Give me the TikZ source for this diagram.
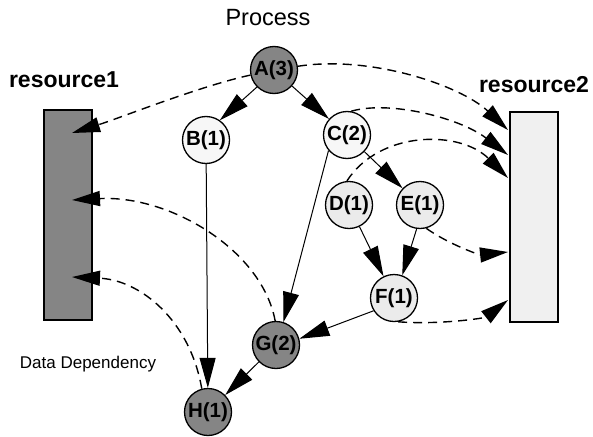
\documentclass[tikz,border=0pt]{standalone}
\usepackage{fontspec}
\setmainfont{Liberation Sans}
\usetikzlibrary{arrows.meta}
\begin{document}
\begin{tikzpicture}[x=1pt,y=-1pt,
  task/.style={circle,draw,line width=1.3pt,minimum size=47pt,inner sep=0pt,
    font=\fontsize{20.5}{20.5}\selectfont\bfseries},
  heavy/.style={task,fill=black!48},
  light/.style={task,fill=black!8},
  pale/.style={task,fill=black!3},
  store/.style={draw,line width=1.1pt,minimum width=48pt,minimum height=210pt,inner sep=0pt},
  dep/.style={-{Triangle[length=30pt,width=16pt]},line width=1pt},
  data/.style={-{Triangle[length=28pt,width=15pt]},line width=1.4pt,dash pattern=on 9pt off 6pt},
  title/.style={font=\fontsize{23.5}{23.5}\selectfont},
  restitle/.style={font=\fontsize{23}{23}\selectfont\bfseries},
  ]
\useasboundingbox (0,0) rectangle (593,436);

% resources
\node[store,fill=black!48] (res1) at (68,215) {};
\node[store,fill=black!6]  (res2) at (534,217) {};

% labels
\node[title]    (proc)  at (268,18) {Process};
\node[restitle] (lab1)  at (64,80)  {resource1};
\node[restitle] (lab2)  at (534,85) {resource2};
\node[font=\fontsize{17}{17}\selectfont] (legend) at (88,364) {Data Dependency};

% tasks
\node[heavy] (A) at (274,70)  {A(3)};
\node[pale]  (B) at (206,140) {B(1)};
\node[pale]  (C) at (347,135) {C(2)};
\node[light] (D) at (349,205) {D(1)};
\node[light] (E) at (420,205) {E(1)};
\node[light] (F) at (394,298) {F(1)};
\node[heavy] (G) at (276,345) {G(2)};
\node[heavy] (H) at (208,412) {H(1)};

% entry points of the data arrows on the resources
\coordinate (r1a) at (72,133);
\coordinate (r1b) at (72,200);
\coordinate (r1c) at (72,277);
\coordinate (r2a) at (508,130);
\coordinate (r2b) at (508,155);
\coordinate (r2c) at (508,178);
\coordinate (r2d) at (508,252);
\coordinate (r2e) at (508,300);

% precedence edges
\draw[dep] (A.225) -- (B.55);
\draw[dep] (A) -- (C);
\draw[dep] (C) -- (E);
\draw[dep] (D) -- (F);
\draw[dep] (E.262) -- (F.70);
\draw[dep] (C.220) -- (G.72);
\draw[dep] (B) -- (H);
\draw[dep] (F.212) -- (G.15);
\draw[dep] (G) -- (H);

% data dependencies
\draw[data] (A) .. controls (200,86) and (120,118) .. (r1a);
\draw[data] (A) .. controls (370,55) and (460,85) .. (r2a);
\draw[data] (C.80) .. controls (390,100) and (460,118) .. (r2b);
\draw[data] (D.95) .. controls (380,130) and (460,130) .. (r2c);
\draw[data] (E.285) .. controls (450,245) and (480,255) .. (r2d);
\draw[data] (F.280) .. controls (440,325) and (485,318) .. (r2e);
\draw[data] (G.92) .. controls (262,250) and (170,195) .. (r1b);
\draw[data] (H.105) .. controls (190,320) and (140,280) .. (r1c);
\end{tikzpicture}
\end{document}
